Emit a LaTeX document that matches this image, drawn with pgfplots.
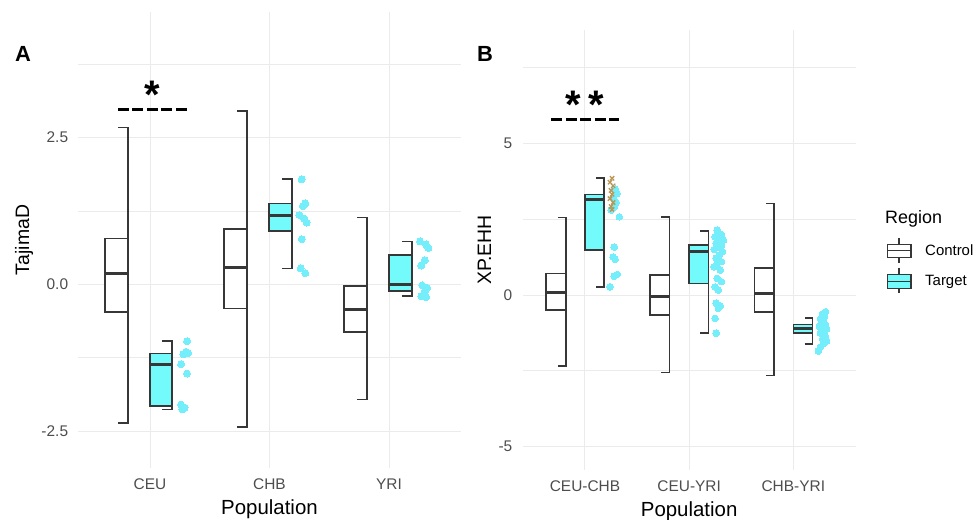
\documentclass[border=0pt]{standalone}
\usepackage{fontspec}
\setmainfont{Liberation Sans}
\usepackage{pgfplots}
\pgfplotsset{compat=1.18}
\definecolor{boxline}{RGB}{55,55,55}
\definecolor{tfill}{RGB}{115,250,250}
\definecolor{tpt}{RGB}{115,238,250}
\definecolor{gridc}{RGB}{235,235,235}
\definecolor{ticktext}{RGB}{77,77,77}
\definecolor{xmark}{RGB}{185,150,85}
% half box: xl, xr, xcap, lower whisker, q1, median, q3, upper whisker, fill
\newcommand\halfbox[9]{%
  \addplot[draw=boxline, line width=1.6bp] coordinates {(#3,#4) (#2,#4) (#2,#8) (#3,#8)};
  \addplot[draw=boxline, fill=#9, line width=1.6bp] coordinates {(#1,#5) (#2,#5) (#2,#7) (#1,#7)} -- cycle;
  \addplot[draw=boxline, line width=3bp] coordinates {(#1,#6) (#2,#6)};
}
\pgfplotsset{panel/.style={
  anchor=south west, scale only axis,
  axis line style={draw=none}, tick style={draw=none},
  major tick length=0pt, minor tick length=0pt,
  xmajorgrids, ymajorgrids, yminorgrids,
  major grid style={draw=gridc, line width=1bp},
  minor grid style={draw=gridc, line width=0.8bp},
  tick label style={font=\fontsize{15.5}{18}\selectfont, text=ticktext, inner sep=0pt},
  xticklabel style={anchor=north},
  yticklabel style={anchor=east},
  xticklabel shift=11bp, yticklabel shift=10bp,
  every axis x label/.style={at={(rel axis cs:0.5,0)}, anchor=base, yshift=-46.5bp, inner sep=0pt, font=\fontsize{20.5}{24}\selectfont},
  every axis y label/.style={at={(rel axis cs:0,0.5)}, anchor=base, inner sep=0pt, font=\fontsize{19.5}{24}\selectfont},
  pts/.style={only marks, mark=*, color=tpt, mark size=3.5bp, mark options={solid, fill=tpt, draw=tpt, line width=0pt}},
}}
\begin{document}
\begin{tikzpicture}
\path[use as bounding box] (0,0) rectangle (976bp,520bp);
% ---------------- Panel A ----------------
\begin{axis}[panel, at={(78.3bp,52bp)}, width=382.4bp, height=456bp,
  xmin=0.4, xmax=3.6, ymin=-3.13, ymax=4.64,
  xtick={1,2,3}, xticklabels={CEU,CHB,YRI},
  ytick={-2.5,0,2.5}, yticklabels={-2.5,0.0,2.5},
  minor ytick={-1.25,1.25,3.75},
  xlabel={Population}, ylabel={TajimaD},
  ylabel style={xshift=-49.3bp, rotate=90}]
\halfbox{0.623}{0.816}{0.732}{-2.36}{-0.47}{0.19}{0.78}{2.67}{white}
\halfbox{1.000}{1.184}{1.100}{-2.13}{-2.07}{-1.36}{-1.18}{-0.97}{tfill}
\halfbox{1.619}{1.812}{1.728}{-2.43}{-0.41}{0.29}{0.94}{2.95}{white}
\halfbox{1.996}{2.188}{2.104}{0.27}{0.91}{1.18}{1.38}{1.79}{tfill}
\halfbox{2.623}{2.816}{2.732}{-1.96}{-0.81}{-0.43}{-0.03}{1.14}{white}
\halfbox{3.000}{3.190}{3.106}{-0.20}{-0.11}{0.00}{0.50}{0.73}{tfill}
\addplot[pts] coordinates {
 (1.31,-0.97) (1.30,-1.15) (1.32,-1.17) (1.28,-1.19) (1.26,-1.36) (1.31,-1.52) (1.26,-2.05) (1.29,-2.10) (1.27,-2.13)
 (2.27,1.79) (2.30,1.38) (2.28,1.33) (2.25,1.18) (2.29,1.12) (2.31,1.05) (2.27,0.77) (2.26,0.27) (2.30,0.19)
 (3.26,0.73) (3.31,0.68) (3.33,0.62) (3.30,0.41) (3.27,0.32) (3.28,-0.02) (3.32,-0.06) (3.30,-0.12) (3.27,-0.20) (3.31,-0.22)};
\addplot[black, line width=3bp, dash pattern=on 11bp off 3.5bp] coordinates {(0.732,2.97) (1.31,2.97)};
\node[anchor=base, inner sep=0pt, font=\fontsize{40}{40}\selectfont\bfseries] at (axis cs:1.017,2.99) {*};
\end{axis}
% ---------------- Panel B ----------------
\begin{axis}[panel, at={(522.5bp,50bp)}, width=333.3bp, height=440bp,
  xmin=0.4, xmax=3.6, ymin=-5.77, ymax=8.74,
  xtick={1,2,3}, xticklabels={CEU-CHB,CEU-YRI,CHB-YRI},
  ytick={-5,0,5}, yticklabels={-5,0,5},
  minor ytick={-2.5,2.5,7.5},
  xlabel={Population}, ylabel={XP.EHH},
  ylabel style={xshift=-31.5bp, rotate=90}]
\halfbox{0.626}{0.815}{0.741}{-2.34}{-0.50}{0.09}{0.71}{2.55}{white}
\halfbox{1.000}{1.185}{1.108}{0.27}{1.48}{3.16}{3.31}{3.86}{tfill}
\halfbox{1.626}{1.811}{1.734}{-2.56}{-0.66}{-0.05}{0.66}{2.58}{white}
\halfbox{2.000}{2.185}{2.108}{-1.25}{0.38}{1.42}{1.65}{2.11}{tfill}
\halfbox{2.627}{2.816}{2.739}{-2.65}{-0.55}{0.05}{0.90}{3.02}{white}
\halfbox{3.000}{3.185}{3.108}{-1.62}{-1.26}{-1.12}{-0.97}{-0.75}{tfill}
\addplot[pts, mark size=3.3bp] coordinates {
 (1.29,3.50) (1.31,3.35) (1.27,3.20) (1.30,3.05) (1.28,2.90) (1.25,2.80) (1.33,2.58) (1.28,1.58) (1.27,1.25) (1.29,1.18) (1.31,0.68) (1.28,0.62) (1.24,0.27)
 (2.27,2.14) (2.31,2.00) (2.25,1.92) (2.30,1.85) (2.33,1.81) (2.26,1.70) (2.31,1.64) (2.28,1.59) (2.24,1.50) (2.32,1.43) (2.29,1.32) (2.26,1.21) (2.31,1.10) (2.27,1.04) (2.24,0.93) (2.30,0.82) (2.27,0.55) (2.31,0.44) (2.25,0.27) (2.28,0.16) (2.26,-0.27) (2.30,-0.36) (2.28,-0.44) (2.25,-0.77) (2.26,-1.26)
 (3.31,-0.55) (3.28,-0.62) (3.30,-0.70) (3.26,-0.78) (3.29,-0.85) (3.27,-0.92) (3.31,-0.98) (3.25,-1.03) (3.29,-1.08) (3.32,-1.12) (3.27,-1.16) (3.30,-1.20) (3.26,-1.25) (3.29,-1.30) (3.31,-1.38) (3.28,-1.45) (3.32,-1.52) (3.29,-1.60) (3.26,-1.72) (3.24,-1.85)};
\addplot[only marks, mark=x, mark size=3bp, xmark, line width=1.3bp] coordinates {
 (1.26,3.85) (1.24,3.72) (1.27,3.60) (1.25,3.45) (1.26,3.32) (1.24,3.18) (1.27,3.05) (1.25,2.92) (1.26,2.82)};
\addplot[black, line width=3bp, dash pattern=on 11bp off 3.5bp] coordinates {(0.674,5.79) (1.326,5.79)};
\node[anchor=base, inner sep=0pt, font=\fontsize{40}{40}\selectfont\bfseries] at (axis cs:1.0,5.82) {*\hspace{7bp}*};
\end{axis}
% ---------------- panel tags ----------------
\node[anchor=base west, inner sep=0pt, font=\fontsize{22}{24}\selectfont\bfseries] at (15bp,458bp) {A};
\node[anchor=base west, inner sep=0pt, font=\fontsize{22}{24}\selectfont\bfseries] at (477bp,458bp) {B};
% ---------------- legend ----------------
\node[anchor=base west, inner sep=0pt, font=\fontsize{18}{20}\selectfont] at (885bp,296bp) {Region};
\draw[boxline, line width=1.3bp] (899bp,281.7bp) -- (899bp,256.7bp);
\draw[boxline, fill=white, line width=1.3bp] (887.3bp,262.7bp) rectangle (911bp,275.7bp);
\draw[boxline, line width=1.3bp] (887.3bp,269.2bp) -- (911bp,269.2bp);
\node[anchor=base west, inner sep=0pt, font=\fontsize{15}{18}\selectfont] at (925bp,264bp) {Control};
\draw[boxline, line width=1.3bp] (899bp,252.3bp) -- (899bp,226.7bp);
\draw[boxline, fill=tfill, line width=1.3bp] (887.3bp,231.7bp) rectangle (911bp,245.7bp);
\draw[boxline, line width=1.3bp] (887.3bp,238.7bp) -- (911bp,238.7bp);
\node[anchor=base west, inner sep=0pt, font=\fontsize{15}{18}\selectfont] at (925bp,234bp) {Target};
\end{tikzpicture}
\end{document}
